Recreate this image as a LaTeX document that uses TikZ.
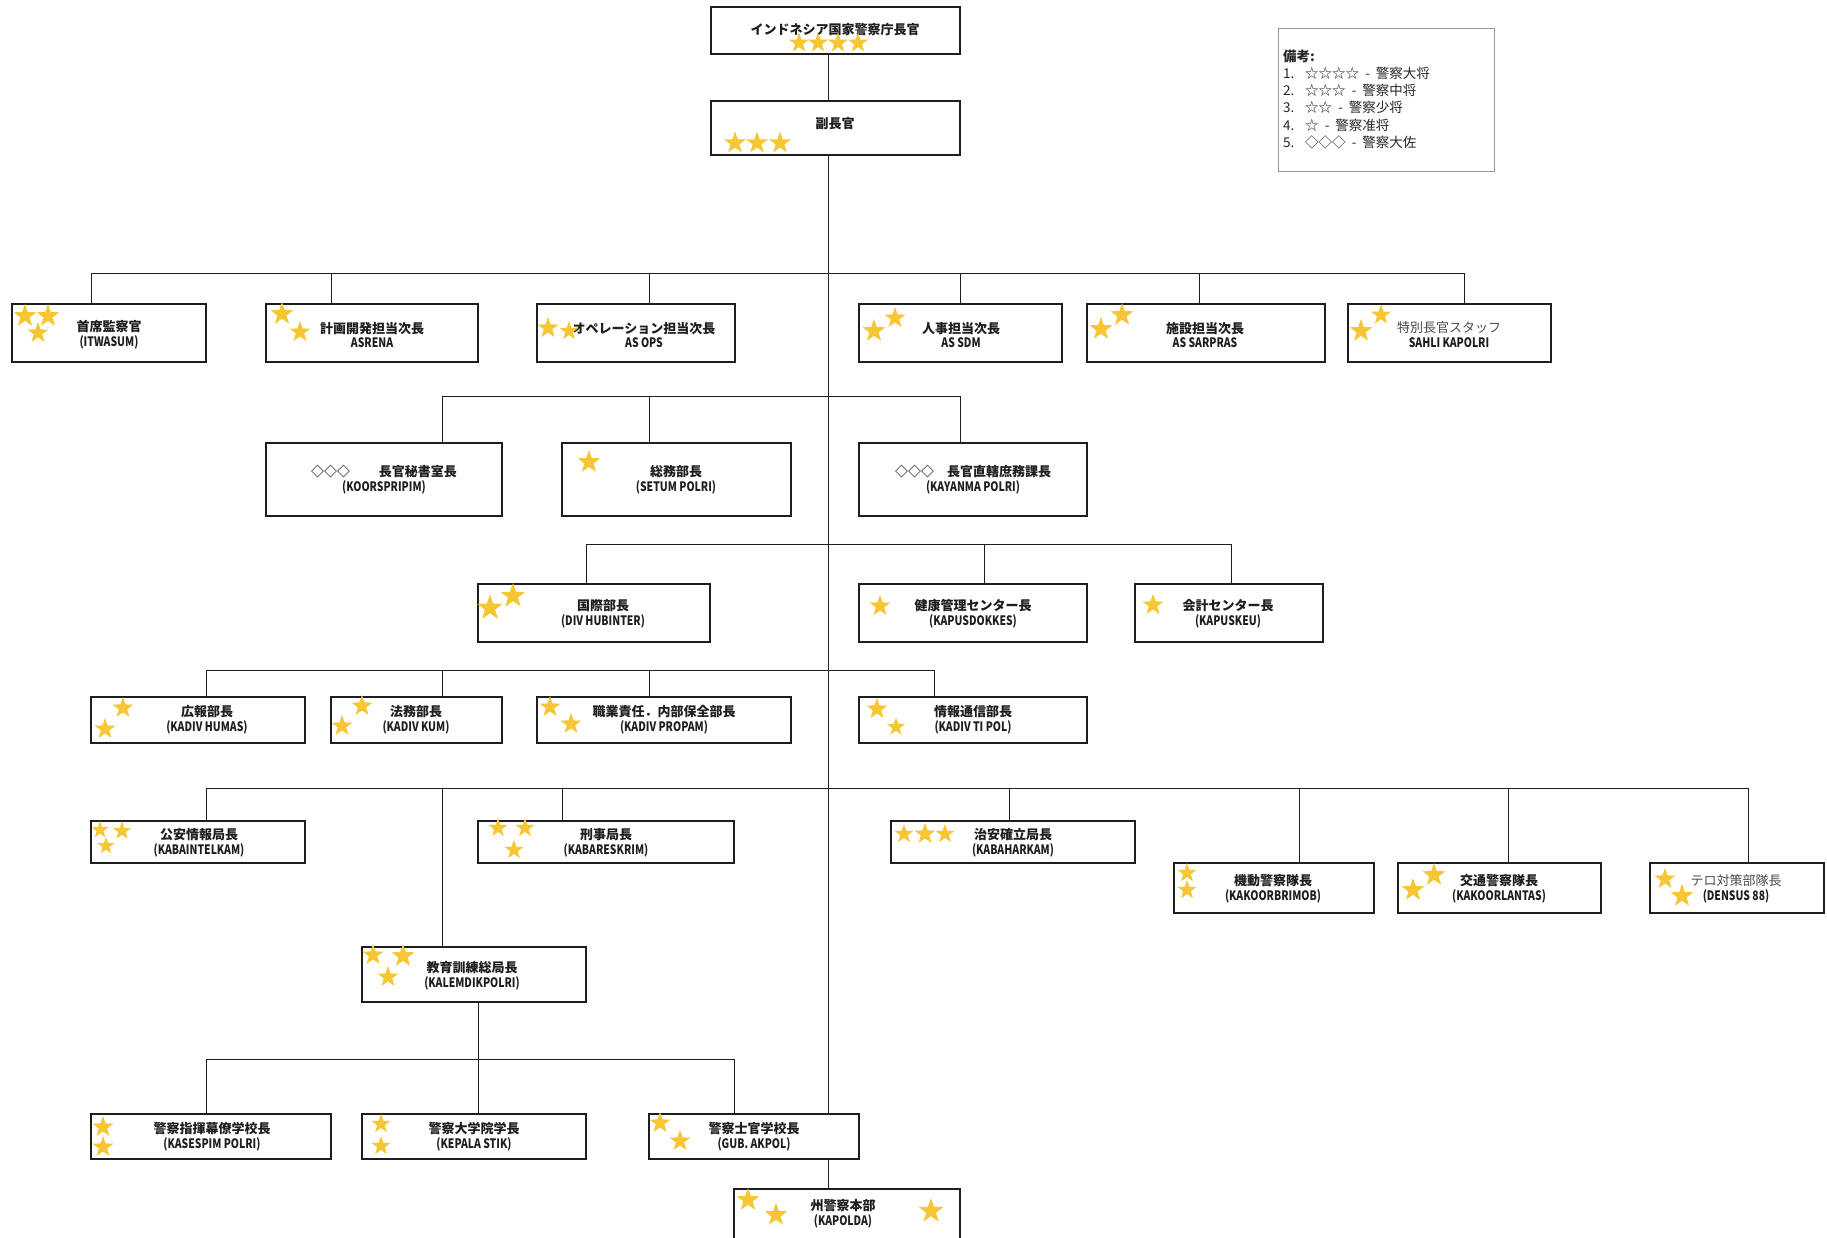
\documentclass[tikz,border=0pt]{standalone}
\usepackage{fontspec}
\setmainfont{Noto Sans CJK JP}
\newfontfamily\latc{Noto Sans CJK JP}[FakeStretch=0.8]
\usetikzlibrary{shapes.geometric}
\definecolor{starc}{RGB}{246,198,52}
\definecolor{ink}{RGB}{30,30,30}
\newcounter{stc}
\newcommand\st[3]{\stepcounter{stc}\node[gstar,minimum size=#3] (star\arabic{stc}) at (#1,#2) {};}
\newcommand\bx[5]{\node[obox,anchor=north west,minimum width={#4-#2},minimum height={#5-#3}] (#1) at (#2,#3) {};}
\newcommand\tx[5]{\node[lbl] (t#1) at (#2,#3) {#4\\{\latc #5}};}
\newcommand\up[3]{\draw[conn] (#1.north -| #2,0) -- (#3 -| #2,0);}
\newcommand\grtx{\mdseries\color{black!70}}
\begin{document}
\begin{tikzpicture}[x=1pt,y=-1pt,
 obox/.style={draw=ink,line width=1.1pt,inner sep=0,outer sep=0,rectangle},
 lgbox/.style={draw=black!40,line width=1pt,inner sep=0,outer sep=0,rectangle},
 conn/.style={draw=ink,line width=0.9pt},
 gstar/.style={star,star points=5,star point ratio=2.5,fill=starc,draw=none,inner sep=0,outer sep=0},
 lbl/.style={align=center,inner sep=0,text=ink,font=\fontsize{13}{14.8}\selectfont\bfseries},
 leg/.style={anchor=west,inner sep=0,text=black!85,font=\fontsize{13.5}{15}\selectfont}]
\useasboundingbox (0,0) rectangle (1827,1238);
\fill[white] (0,0) rectangle (1827,1238);
% boxes
\bx{top}{711}{7}{960}{54}
\bx{dep}{711}{101}{960}{155}
\bx{itw}{12}{304}{206}{362}
\bx{asr}{266}{304}{478}{362}
\bx{ops}{537}{304}{735}{362}
\bx{sdm}{859}{304}{1062}{362}
\bx{sar}{1087}{304}{1325}{362}
\bx{sah}{1348}{304}{1551}{362}
\bx{koo}{266}{443}{502}{516}
\bx{set}{562}{443}{791}{516}
\bx{kay}{859}{443}{1087}{516}
\bx{hub}{478}{584}{710}{642}
\bx{dok}{859}{584}{1087}{642}
\bx{keu}{1135}{584}{1323}{642}
\bx{hum}{91}{697}{305}{743}
\bx{kum}{331}{697}{502}{743}
\bx{pro}{537}{697}{791}{743}
\bx{tip}{859}{697}{1087}{743}
\bx{int}{91}{821}{305}{863}
\bx{res}{478}{821}{734}{863}
\bx{har}{891}{821}{1135}{863}
\bx{bri}{1174}{863}{1374}{913}
\bx{lan}{1398}{863}{1601}{913}
\bx{den}{1650}{863}{1824}{913}
\bx{lem}{362}{947}{586}{1002}
\bx{ses}{91}{1114}{331}{1159}
\bx{sti}{362}{1114}{586}{1159}
\bx{akp}{649}{1114}{859}{1159}
\bx{pol}{734}{1189}{960}{1250}
\node[lgbox,anchor=north west,minimum width=216,minimum height=143] (legbox) at (1278,29) {};
% bus coordinates
\coordinate (b1) at (0,273);
\coordinate (b2) at (0,396);
\coordinate (b3) at (0,544);
\coordinate (b4) at (0,670);
\coordinate (b5) at (0,788);
\coordinate (b6) at (0,1059);
% trunk
\draw[conn] (top.south -| 828,0) -- (dep.north -| 828,0);
\draw[conn] (dep.south -| 828,0) -- (akp.north -| 828,0);
\draw[conn] (akp.south -| 828,0) -- (pol.north -| 828,0);
% buses
\draw[conn] (b1 -| 91,0) -- (b1 -| 1464,0);
\draw[conn] (b2 -| 442,0) -- (b2 -| 960,0);
\draw[conn] (b3 -| 586,0) -- (b3 -| 1231,0);
\draw[conn] (b4 -| 206,0) -- (b4 -| 934,0);
\draw[conn] (b5 -| 206,0) -- (b5 -| 1748,0);
\draw[conn] (b6 -| 206,0) -- (b6 -| 734,0);
% drops
\up{itw}{91}{b1}\up{asr}{331}{b1}\up{ops}{649}{b1}\up{sdm}{960}{b1}\up{sar}{1199}{b1}\up{sah}{1464}{b1}
\up{koo}{442}{b2}\up{set}{649}{b2}\up{kay}{960}{b2}
\up{hub}{586}{b3}\up{dok}{984}{b3}\up{keu}{1231}{b3}
\up{hum}{206}{b4}\up{kum}{442}{b4}\up{pro}{649}{b4}\up{tip}{934}{b4}
\up{int}{206}{b5}\up{res}{562}{b5}\up{har}{1009}{b5}\up{bri}{1299}{b5}\up{lan}{1508}{b5}\up{den}{1748}{b5}\up{lem}{442}{b5}
\up{ses}{206}{b6}\up{sti}{478}{b6}\up{akp}{734}{b6}
\draw[conn] (lem.south -| 478,0) -- (b6 -| 478,0);
% texts
\node[lbl] (ttop) at (835,30) {インドネシア国家警察庁長官};
\node[lbl] (tdep) at (835,124) {副長官};
\tx{itw}{109}{335}{首席監察官}{(ITWASUM)}
\tx{asr}{372}{335}{計画開発担当次長}{ASRENA}
\tx{ops}{644}{335}{オペレーション担当次長}{AS OPS}
\tx{sdm}{961}{335}{人事担当次長}{AS SDM}
\tx{sar}{1205}{335}{施設担当次長}{AS SARPRAS}
\tx{sah}{1449}{335}{{\grtx 特別長官スタッフ}}{SAHLI KAPOLRI}
\tx{koo}{384}{480}{◇◇◇\hspace{2.2em}長官秘書室長}{(KOORSPRIPIM)}
\tx{set}{676}{480}{総務部長}{(SETUM POLRI)}
\tx{kay}{973}{480}{◇◇◇\hspace{1em}長官直轄庶務課長}{(KAYANMA POLRI)}
\tx{hub}{603}{614}{国際部長}{(DIV HUBINTER)}
\tx{dok}{973}{614}{健康管理センター長}{(KAPUSDOKKES)}
\tx{keu}{1228}{614}{会計センター長}{(KAPUSKEU)}
\tx{hum}{207}{720}{広報部長}{(KADIV HUMAS)}
\tx{kum}{416}{720}{法務部長}{(KADIV KUM)}
\tx{pro}{664}{720}{職業責任．内部保全部長}{(KADIV PROPAM)}
\tx{tip}{973}{720}{情報通信部長}{(KADIV TI POL)}
\tx{int}{199}{843}{公安情報局長}{(KABAINTELKAM)}
\tx{res}{606}{843}{刑事局長}{(KABARESKRIM)}
\tx{har}{1013}{843}{治安確立局長}{(KABAHARKAM)}
\tx{bri}{1273}{889}{機動警察隊長}{(KAKOORBRIMOB)}
\tx{lan}{1499}{889}{交通警察隊長}{(KAKOORLANTAS)}
\tx{den}{1736}{889}{{\grtx テロ対策部隊長}}{(DENSUS 88)}
\tx{lem}{472}{976}{教育訓練総局長}{(KALEMDIKPOLRI)}
\tx{ses}{212}{1137}{警察指揮幕僚学校長}{(KASESPIM POLRI)}
\tx{sti}{474}{1137}{警察大学院学長}{(KEPALA STIK)}
\tx{akp}{754}{1137}{警察士官学校長}{(GUB. AKPOL)}
\tx{pol}{843}{1214}{州警察本部}{(KAPOLDA)}
% legend
\node[leg,font=\fontsize{13.5}{15}\selectfont\bfseries] (leg0) at (1283,56) {備考:};
\node[leg] (leg1) at (1283,73) {\makebox[22pt][l]{1.}☆☆☆☆\ \ -\ \ 警察大将};
\node[leg] (leg2) at (1283,90) {\makebox[22pt][l]{2.}☆☆☆\ \ -\ \ 警察中将};
\node[leg] (leg3) at (1283,107) {\makebox[22pt][l]{3.}☆☆\ \ -\ \ 警察少将};
\node[leg] (leg4) at (1283,125) {\makebox[22pt][l]{4.}☆\ \ -\ \ 警察准将};
\node[leg] (leg5) at (1283,142) {\makebox[22pt][l]{5.}◇◇◇\ \ -\ \ 警察大佐};
% stars
\st{799}{43}{21}\st{818}{43}{21}\st{838}{43}{21}\st{858}{43}{21}
\st{735}{143}{23}\st{757}{143}{23}\st{780}{143}{23}
\st{25}{316}{24}\st{48}{316}{24}\st{38}{333}{22}
\st{282}{314}{24}\st{300}{332}{22}
\st{548}{328}{22}\st{569}{331}{20}
\st{874}{331}{24}\st{895}{318}{22}
\st{1101}{329}{24}\st{1122}{315}{24}
\st{1361}{331}{24}\st{1381}{315}{21}
\st{589}{462}{24}
\st{490}{608}{27}\st{513}{596}{26}
\st{880}{606}{22}
\st{1153}{605}{22}
\st{123}{708}{22}\st{105}{729}{22}
\st{362}{706}{22}\st{342}{726}{22}
\st{550}{707}{22}\st{571}{724}{22}
\st{877}{709}{22}\st{896}{727}{19}
\st{100}{830}{18}\st{122}{831}{19}\st{106}{846}{18}
\st{498}{828}{20}\st{525}{828}{20}\st{514}{850}{20}
\st{904}{834}{20}\st{925}{834}{22}\st{945}{834}{20}
\st{1187}{873}{20}\st{1187}{890}{20}
\st{1413}{890}{24}\st{1434}{875}{24}
\st{1665}{879}{22}\st{1682}{896}{24}
\st{373}{955}{22}\st{403}{956}{24}\st{388}{977}{22}
\st{103}{1127}{22}\st{103}{1147}{22}
\st{381}{1124}{20}\st{381}{1146}{20}
\st{660}{1123}{22}\st{680}{1141}{22}
\st{748}{1200}{24}\st{776}{1215}{24}\st{931}{1211}{26}
\end{tikzpicture}
\end{document}
